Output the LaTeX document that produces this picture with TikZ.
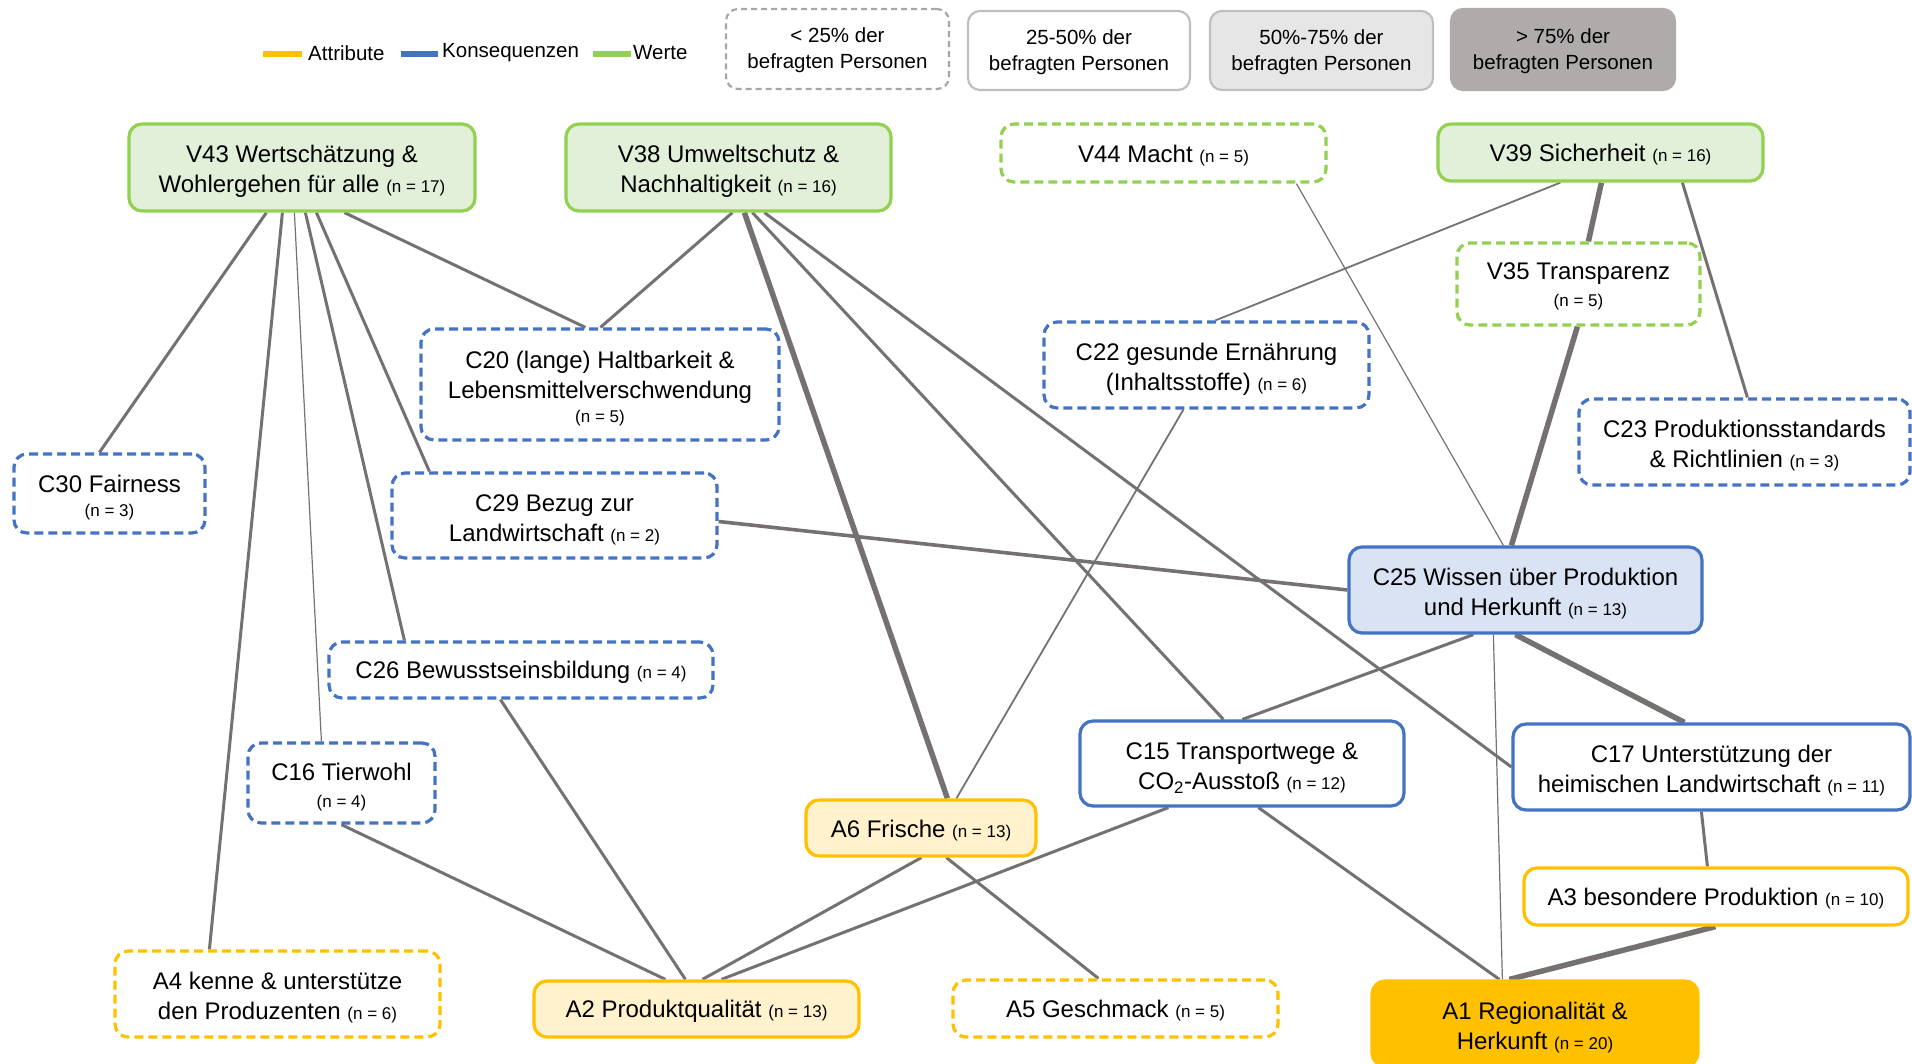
\documentclass[tikz,border=0pt]{standalone}
\usepackage{fontspec}
\setmainfont{Liberation Sans}
\definecolor{wgreen}{HTML}{92D050}
\definecolor{wgreenfill}{HTML}{E2F0D9}
\definecolor{kblue}{HTML}{4472C4}
\definecolor{kbluefill}{HTML}{DAE3F3}
\definecolor{ayellow}{HTML}{FFC000}
\definecolor{ayellowfill}{HTML}{FFF2CC}
\definecolor{edgegray}{HTML}{767171}
\definecolor{lgborder}{HTML}{BFBFBF}
\definecolor{lgdash}{HTML}{A6A6A6}
\definecolor{lgmid}{HTML}{E7E6E6}
\definecolor{lgdark}{HTML}{AFABAB}
\newcommand{\nn}[1]{{\fontsize{17}{20}\selectfont(n = #1)}}
\newcommand{\stA}{\rule{0pt}{25.5pt}}
\newcommand{\stB}{\rule{0pt}{26.5pt}}
\newcommand{\stC}{\rule{0pt}{21.5pt}}
\newcommand{\stL}{\rule{0pt}{18pt}}
\pgfdeclarelayer{bg}
\pgfsetlayers{bg,main}
\tikzset{
  box/.style={rectangle, rounded corners=13pt, align=center, inner sep=0pt,
    font=\fontsize{24}{30}\selectfont, text=black, line width=3.2pt},
  oneline/.style={execute at begin node={\rule{0pt}{22.5pt}}},
  dsh/.style={dash pattern=on 9pt off 5pt},
  valbox/.style={box, draw=wgreen, fill=wgreenfill},
  valdash/.style={box, dsh, draw=wgreen, fill=white},
  conbox/.style={box, draw=kblue, fill=white},
  conhi/.style={box, draw=kblue, fill=kbluefill},
  condash/.style={box, dsh, draw=kblue, fill=white},
  attbox/.style={box, draw=ayellow, fill=ayellowfill},
  attwhite/.style={box, draw=ayellow, fill=white},
  atttop/.style={box, draw=ayellow, fill=ayellow},
  attdash/.style={box, dsh, draw=ayellow, fill=white},
  lgbox/.style={rectangle, rounded corners=12pt, align=center, inner sep=0pt,
    font=\fontsize{20.5}{26}\selectfont, text=black, line width=2.2pt},
  lgtext/.style={anchor=west, inner sep=0pt, font=\fontsize{20.5}{24}\selectfont, text=black},
  lgbar/.style={line width=6pt},
  thinl/.style={draw=edgegray, line width=1.2pt},
  thinb/.style={draw=edgegray, line width=1.8pt},
  medl/.style={draw=edgegray, line width=3pt},
  medb/.style={draw=edgegray, line width=3.6pt},
  thickl/.style={draw=edgegray, line width=5.5pt},
}
\begin{document}
\begin{tikzpicture}[x=1pt, y=-1pt]
\useasboundingbox (0,0) rectangle (1912,1064);
\clip (0,0) rectangle (1912,1064);

% legend
\draw[lgbar, ayellow] (263,54) -- (302,54);
\node[lgtext] (lgA) at (308,53) {Attribute};
\draw[lgbar, kblue] (401,54) -- (438,54);
\node[lgtext] (lgK) at (442,53) {Konsequenzen};
\draw[lgbar, wgreen] (593,54) -- (631,54);
\node[lgtext] (lgW) at (633,53) {Werte};

\node[lgbox, draw=lgdash, dash pattern=on 6pt off 4pt, fill=white, minimum width=223pt, minimum height=80pt] (L1) at (837.5,49) {\stL< 25\% der\\befragten Personen};
\node[lgbox, draw=lgborder, fill=white, minimum width=222pt, minimum height=79pt] (L2) at (1079,50.5) {\stL 25-50\% der\\befragten Personen};
\node[lgbox, draw=lgborder, fill=lgmid, minimum width=223pt, minimum height=79pt] (L3) at (1321.5,50.5) {\stL 50\%-75\% der\\befragten Personen};
\node[lgbox, draw=lgdark, fill=lgdark, minimum width=224pt, minimum height=81pt] (L4) at (1563,49.5) {\stL> 75\% der\\befragten Personen};

% values
\node[valbox, minimum width=346pt, minimum height=87pt] (V43) at (302,167.5) {\stA V43 Wertschätzung \&\\Wohlergehen für alle \nn{17}};
\node[valbox, minimum width=325pt, minimum height=87pt] (V38) at (728.5,167.5) {\stA V38 Umweltschutz \&\\Nachhaltigkeit \nn{16}};
\node[valdash, oneline, minimum width=325pt, minimum height=58pt] (V44) at (1163.5,153) {V44 Macht \nn{5}};
\node[valbox, oneline, minimum width=325pt, minimum height=57pt] (V39) at (1600.5,152.5) {V39 Sicherheit \nn{16}};
\node[valdash, minimum width=243pt, minimum height=82pt] (V35) at (1578.5,284) {\stC V35 Transparenz\\[-3pt]\nn{5}};

% consequences
\node[condash, minimum width=358pt, minimum height=111pt] (C20) at (600,384.5) {\stB C20 (lange) Haltbarkeit \&\\Lebensmittelverschwendung\\[-6pt]\nn{5}};
\node[condash, minimum width=325pt, minimum height=86pt] (C22) at (1206.5,365) {\stA C22 gesunde Ernährung\\(Inhaltsstoffe) \nn{6}};
\node[condash, minimum width=331pt, minimum height=86pt] (C23) at (1744.5,442) {\stA C23 Produktionsstandards\\\& Richtlinien \nn{3}};
\node[condash, minimum width=191pt, minimum height=79pt] (C30) at (109.5,493.5) {\stB C30 Fairness\\[-6pt]\nn{3}};
\node[condash, minimum width=325pt, minimum height=85pt] (C29) at (554.5,515.5) {\stA C29 Bezug zur\\Landwirtschaft \nn{2}};
\node[conhi, minimum width=353pt, minimum height=86pt] (C25) at (1525.5,590) {\stA C25 Wissen über Produktion\\und Herkunft \nn{13}};
\node[condash, oneline, minimum width=384pt, minimum height=56pt] (C26) at (521,670) {C26 Bewusstseinsbildung \nn{4}};
\node[condash, minimum width=187pt, minimum height=80pt] (C16) at (341.5,783) {\stA C16 Tierwohl\\[-3pt]\nn{4}};
\node[conbox, minimum width=324pt, minimum height=85pt] (C15) at (1242,763.5) {\stA C15 Transportwege \&\\CO\textsubscript{2}-Ausstoß \nn{12}};
\node[conbox, minimum width=397pt, minimum height=86pt] (C17) at (1711.5,767) {\stA C17 Unterstützung der\\heimischen Landwirtschaft \nn{11}};

% attributes
\node[attbox, oneline, minimum width=230pt, minimum height=56pt] (A6) at (921,828) {A6 Frische \nn{13}};
\node[attwhite, oneline, minimum width=384pt, minimum height=57pt] (A3) at (1716,896.5) {A3 besondere Produktion \nn{10}};
\node[attdash, minimum width=325pt, minimum height=86pt] (A4) at (277.5,994) {\stA A4 kenne \& unterstütze\\den Produzenten \nn{6}};
\node[attbox, oneline, minimum width=325pt, minimum height=56pt] (A2) at (696.5,1009) {A2 Produktqualität \nn{13}};
\node[attdash, oneline, minimum width=325pt, minimum height=57pt] (A5) at (1115.5,1008.5) {A5 Geschmack \nn{5}};
\node[atttop, minimum width=326pt, minimum height=85pt] (A1) at (1535,1023.5) {\stA A1 Regionalität \&\\Herkunft \nn{20}};

% connectors
\begin{pgfonlayer}{bg}
\draw[medl] ([xshift=139pt]V43.south west) -- ([xshift=87pt]C30.north west);
\draw[medl] ([xshift=155pt]V43.south west) -- ([xshift=96pt]A4.north west);
\draw[thinl] ([xshift=167pt]V43.south west) -- ([xshift=75pt]C16.north west);
\draw[medl] ([xshift=178pt]V43.south west) -- ([xshift=77pt]C26.north west);
\draw[medl] ([xshift=189pt]V43.south west) -- ([xshift=39pt]C29.north west);
\draw[medl] ([xshift=217pt]V43.south west) -- ([xshift=166pt]C20.north west);
\draw[medl] ([xshift=168pt]V38.south west) -- ([xshift=181pt]C20.north west);
\draw[thickl] ([xshift=180pt]V38.south west) -- ([xshift=143pt]A6.north west);
\draw[medl] ([xshift=188pt]V38.south west) -- ([xshift=145pt]C15.north west);
\draw[medl] ([xshift=200pt]V38.south west) -- (C17.west);
\draw[thinl] ([xshift=297pt]V44.south west) -- ([xshift=156pt]C25.north west);
\draw[thinb] ([xshift=124pt]V39.south west) -- ([xshift=173pt]C22.north west);
\draw[thickl] ([xshift=165pt]V39.south west) -- ([xshift=133pt]V35.north west);
\draw[medl] ([xshift=246pt]V39.south west) -- ([xshift=170pt]C23.north west);
\draw[thickl] ([xshift=122pt]V35.south west) -- ([xshift=164pt]C25.north west);
\draw[medb] ([yshift=-6pt]C29.east) -- (C25.west);
\draw[thinb] ([xshift=141pt]C22.south west) -- ([xshift=152pt]A6.north west);
\draw[medl] ([xshift=173pt]C26.south west) -- ([xshift=153pt]A2.north west);
\draw[medl] ([xshift=95pt]C16.south west) -- ([xshift=133pt]A2.north west);
\draw[medl] ([xshift=126pt]C25.south west) -- ([xshift=164pt]C15.north west);
\draw[thickl] ([xshift=168pt]C25.south west) -- ([xshift=173pt]C17.north west);
\draw[thinl] ([xshift=146pt]C25.south west) -- ([xshift=132pt]A1.north west);
\draw[medl] ([xshift=90pt]C15.south west) -- ([xshift=189pt]A2.north west);
\draw[medl] ([xshift=180pt]C15.south west) -- ([xshift=129pt]A1.north west);
\draw[medl] ([xshift=117pt]A6.south west) -- ([xshift=170pt]A2.north west);
\draw[medl] ([xshift=142pt]A6.south west) -- ([xshift=147pt]A5.north west);
\draw[medl] ([xshift=190pt]C17.south west) -- ([xshift=185pt]A3.north west);
\draw[thickl] ([xshift=193pt]A3.south west) -- ([xshift=139pt]A1.north west);
\end{pgfonlayer}
\end{tikzpicture}
\end{document}
